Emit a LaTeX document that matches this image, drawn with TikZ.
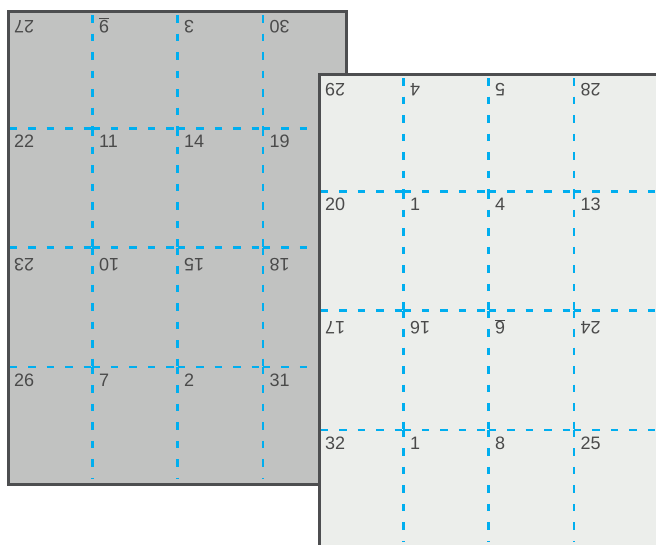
\documentclass[tikz,border=0pt]{standalone}
\usepackage{fontspec}
\setmainfont{Liberation Sans}
\definecolor{framec}{HTML}{4D4E50}
\definecolor{sheetA}{HTML}{C1C2C1}
\definecolor{sheetB}{HTML}{ECEEEB}
\definecolor{foldc}{HTML}{00AEEF}
\definecolor{numc}{HTML}{4A4A4A}
\newcommand\ulnum[1]{\raisebox{0pt}[\height][0pt]{\underline{#1}}}
\tikzset{
  sheetframe/.style={draw=framec, line width=2.5pt},
  foldline/.style={draw=foldc, line width=2.4pt, dash pattern=on 7.5pt off 11pt},
  num/.style={font=\fontsize{18}{18}\selectfont, text=numc, inner sep=0pt},
  upnum/.style={num, anchor=north west},
  flipnum/.style={num, rotate=180, anchor=south east},
}
\newcommand\sheetfolds{%
  \foreach \x in {92.4,177.5,262.9}
    \foreach \a/\b in {15/128.3,128.3/247.5,247.5/366.8,366.8/479}
      \draw[foldline] (\x,\a) -- (\x,\b);
  \foreach \y in {128.3,247.5,366.8}
    \foreach \a/\b in {9.5/92.4,92.4/177.5,177.5/262.9,262.9/346.5}
      \draw[foldline] (\a,\y) -- (\b,\y);
}
\begin{document}
\begin{tikzpicture}[x=1pt,y=-1pt]
\useasboundingbox (0,0) rectangle (656,544);
\clip (0,0) rectangle (656,544);
% left sheet
\begin{scope}
  \fill[sheetA] (8.7,11.7) rectangle (346.5,484.7);
  \sheetfolds
  \foreach \cx/\lab [count=\i] in {7.3/27, 92.4/{\ulnum{9}}, 177.5/3, 262.9/30}
    \node[flipnum] (L-1-\i) at (\cx+6.5,9+11) {\lab};
  \foreach \cx/\lab [count=\i] in {7.3/22, 92.4/11, 177.5/14, 262.9/19}
    \node[upnum] (L-2-\i) at (\cx+6.5,128.3+6.7) {\lab};
  \foreach \cx/\lab [count=\i] in {7.3/23, 92.4/10, 177.5/15, 262.9/18}
    \node[flipnum] (L-3-\i) at (\cx+6.5,247.5+11) {\lab};
  \foreach \cx/\lab [count=\i] in {7.3/26, 92.4/7, 177.5/2, 262.9/31}
    \node[upnum] (L-4-\i) at (\cx+6.5,366.8+6.7) {\lab};
  \draw[sheetframe] (8.7,11.7) rectangle (346.5,484.7);
\end{scope}
% right sheet
\begin{scope}[shift={(311,63)}]
  \fill[sheetB] (8.7,11.7) rectangle (346.5,484.7);
  \sheetfolds
  \foreach \cx/\lab [count=\i] in {7.3/29, 92.4/4, 177.5/5, 262.9/28}
    \node[flipnum] (R-1-\i) at (\cx+6.5,9+11) {\lab};
  \foreach \cx/\lab [count=\i] in {7.3/20, 92.4/1, 177.5/4, 262.9/13}
    \node[upnum] (R-2-\i) at (\cx+6.5,128.3+6.7) {\lab};
  \foreach \cx/\lab [count=\i] in {7.3/17, 92.4/16, 177.5/{\ulnum{6}}, 262.9/24}
    \node[flipnum] (R-3-\i) at (\cx+6.5,247.5+11) {\lab};
  \foreach \cx/\lab [count=\i] in {7.3/32, 92.4/1, 177.5/8, 262.9/25}
    \node[upnum] (R-4-\i) at (\cx+6.5,366.8+6.7) {\lab};
  \draw[sheetframe] (8.7,11.7) rectangle (346.5,484.7);
\end{scope}
\end{tikzpicture}
\end{document}
